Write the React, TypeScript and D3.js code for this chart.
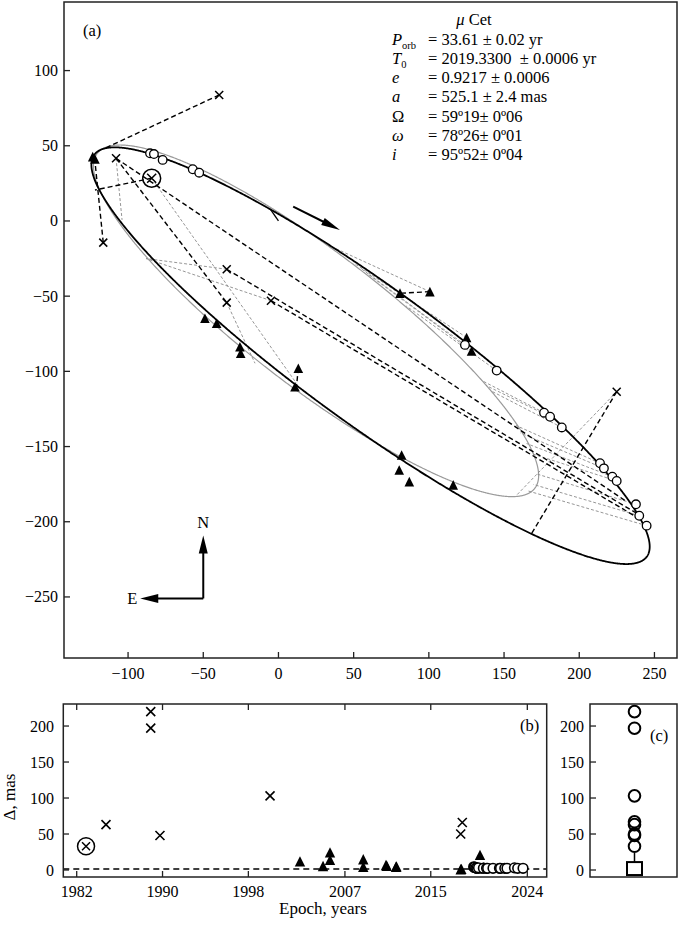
import React from 'react';
import * as d3 from 'd3';

// ---------- orbital elements (from the figure legend) ----------
const P_ORB = 33.61;
const T0 = 2019.33;
const ECC = 0.9217;
const A_MAS = 525.1;
const NODE_DEG = 59.19;
const PERI_DEG = 78.26;
const INC_DEG = 95.52;

// previous (grey) orbit, projected ellipse: centre x, centre y, half width, half height, phase (deg)
const GRAY_ORBIT = [25, -66.4, 148, 116.9, 151.66];

// ---------- panel (a) measurements (x = -ΔRA, y = ΔDec, mas) ----------
const circlesA: [number, number][] = [
  [-85.4, 45], [-82.8, 44.5], [-77, 40.6], [-57, 34.4], [-52.7, 32.1],
  [124, -82.4], [145.1, -99.5], [176.6, -127.5], [180.6, -130.2], [188.4, -137.3],
  [213.8, -161.1], [216.4, -164.5], [222, -170], [224.9, -172.9],
  [237.7, -188.4], [239.9, -196], [244.8, -202.6],
];
const trianglesA: [number, number][] = [
  [-123.5, 42.8], [-122, 41.2], [80.8, -48], [100.7, -47], [125.1, -77.5], [128.4, -86.5],
  [-48.9, -64.7], [-41.1, -68], [-25.6, -83.6], [-25.1, -88], [11, -110.2], [13.2, -97.9],
  [81.9, -155.6], [80.3, -165.6], [87, -173.3], [116.2, -175.5],
];
const crossesA: [number, number][] = [
  [-39.4, 83.8], [-108, 41.7], [-116.5, -14.4], [-34.4, -32.1], [-34.4, -54.3], [-5, -53], [224.9, -113.5],
];
const circledCrossA: [number, number] = [-84.3, 28.4];

// O-C links to the new orbit (black dashed)
const blackLinks: [number, number, number, number][] = [
  [-39.4, 83.8, -115.4, 48.3],
  [-116.5, -14.4, -122, 39.5],
  [-84.3, 28.4, -122, 20.6],
  [-108, 41.7, 231.5, -186.6],
  [-108, 41.7, -34.4, -54.3],
  [-34.4, -32.1, 238.2, -194.4],
  [-5, -53, 240, -198],
  [224.9, -113.5, 168.4, -207.7],
  [100.7, -47, 82, -48],
  [13.2, -97.9, 12, -110],
];
// O-C links to the previous orbit (grey dashed)
const grayLinks: [number, number, number, number][] = [
  [-108, 41.7, -104, 0.7],
  [-84.3, 28.4, 12, -108],
  [-34.4, -32.1, -88, -25],
  [-5, -53, -88, -25],
  [-34.4, -54.3, -15.6, -94.6],
  [100.7, -47, 36, -17.4],
  [124, -82.4, 55, -31.7],
  [125.1, -77.5, 50, -28],
  [128.4, -86.5, 60, -35.7],
  [145.1, -99.5, 85, -56.6],
  [176.6, -127.5, 135, -106],
  [180.6, -130.2, 138, -109.4],
  [188.4, -137.3, 141, -112.8],
  [213.8, -161.1, 158, -136],
  [216.4, -164.5, 161, -141],
  [222, -170, 165, -148],
  [224.9, -172.9, 168, -154.6],
  [237.7, -188.4, 171, -168],
  [239.9, -196, 169.5, -175.2],
  [244.8, -202.6, 165.9, -179.5],
  [224.9, -113.5, 158.2, -182.5],
];

// ---------- panel (b) residuals ----------
const crossEpochs = [1984.73, 1988.9, 1988.9, 1989.76, 2000.02, 2017.79, 2017.94];
const crossDelta = [63, 220, 197, 48, 103, 50, 66];
const circledEpoch = 1982.87;
const circledDelta = 33;
const triEpochs = [2002.81, 2004.96, 2005.61, 2005.61, 2008.71, 2008.71, 2010.83, 2010.9, 2011.76, 2011.8, 2017.79, 2017.85, 2019.59, 2019.55, 2019.9, 2019.95];
const triDelta = [12, 5.5, 24.5, 14, 15, 4.6, 7, 6, 4.6, 5, 1, 1.5, 21, 2, 3, 4];
const circEpochs = [2019.0, 2019.05, 2019.1, 2019.2, 2019.3, 2019.45, 2019.9, 2020.2, 2020.3, 2020.8, 2021.4, 2021.5, 2021.9, 2022.1, 2022.8, 2023.1, 2023.6];
const circDelta = [4.5, 3.5, 4, 3, 2.5, 3, 2.5, 2.4, 2.4, 2.4, 2.4, 2.4, 2.4, 2.4, 3, 2.4, 2.4];
const meanError = 1.5;

// ---------- panel (c) distribution ----------
const outliers = [220, 197, 103, 67, 63, 50, 48, 33];
const boxStats = { low: 0.5, q1: -7, q3: 11, high: 24 };

const epochTicks = [1982, 1990, 1998, 2007, 2015, 2024];
const deltaTicks = [0, 50, 100, 150, 200];
const xTicksA = [-100, -50, 0, 50, 100, 150, 200, 250];
const yTicksA = [-250, -200, -150, -100, -50, 0, 50, 100];

const FONT = "'Liberation Serif', 'Times New Roman', serif";
const rad = Math.PI / 180;

// scales
const xA = d3.scaleLinear().domain([-142.6, 265]).range([64, 677]);
const yA = d3.scaleLinear().domain([-290.6, 145.6]).range([658, 2]);
const xB = d3.scaleLinear().domain([1980.751, 2025.806]).range([63.3, 546.7]);
const yB = d3.scaleLinear().domain([-9.72, 230.6]).range([877, 704]);
const xC = 634.5;

// Thiele-Innes projection of the new orbit
const w = PERI_DEG * rad, O = NODE_DEG * rad, inc = INC_DEG * rad;
const TA = A_MAS * (Math.cos(w) * Math.cos(O) - Math.sin(w) * Math.sin(O) * Math.cos(inc));
const TB = A_MAS * (Math.cos(w) * Math.sin(O) + Math.sin(w) * Math.cos(O) * Math.cos(inc));
const TF = A_MAS * (-Math.sin(w) * Math.cos(O) - Math.cos(w) * Math.sin(O) * Math.cos(inc));
const TG = A_MAS * (-Math.sin(w) * Math.sin(O) + Math.cos(w) * Math.cos(O) * Math.cos(inc));
function orbitPos(E: number): [number, number] {
  const X = Math.cos(E) - ECC;
  const Y = Math.sqrt(1 - ECC * ECC) * Math.sin(E);
  const north = TA * X + TF * Y;
  const east = TB * X + TG * Y;
  return [-east, north];
}
const newOrbit = d3.range(0, 1441).map((k) => orbitPos((k / 1440) * 2 * Math.PI));
const [gcx, gcy, gax, gby, gpsi] = GRAY_ORBIT;
const oldOrbit = d3.range(0, 1441).map((k) => {
  const t = (k / 1440) * 2 * Math.PI;
  return [gcx + gax * Math.cos(t), gcy + gby * Math.cos(t - gpsi * rad)] as [number, number];
});
const lineA = d3.line<[number, number]>().x((d) => xA(d[0])).y((d) => yA(d[1]));
const periPos = orbitPos(0);

function triPath(cx: number, cy: number, s: number) {
  return `M${cx},${cy - s}L${cx + s},${cy + s}L${cx - s},${cy + s}Z`;
}
function crossPath(cx: number, cy: number, s: number) {
  return `M${cx - s},${cy - s}L${cx + s},${cy + s}M${cx - s},${cy + s}L${cx + s},${cy - s}`;
}
function arrowHead(x1: number, y1: number, x2: number, y2: number, len: number, wid: number) {
  const dx = x2 - x1, dy = y2 - y1;
  const n = Math.hypot(dx, dy);
  const ux = dx / n, uy = dy / n;
  const bx = x2 - ux * len, by = y2 - uy * len;
  return `M${x2},${y2}L${bx - uy * wid / 2},${by + ux * wid / 2}L${bx + uy * wid / 2},${by - ux * wid / 2}Z`;
}

const TXT = 16.5;
const TICK = 16;

export default function App() {
  const arrow1 = [xA(9.8), yA(9.5), xA(40.9), yA(-6)];
  const cN = [xA(-50), yA(-251)];
  const armLen = 63;
  const paramRows: { y: number; label: React.ReactNode; value: string }[] = [
    { y: 45, label: <><tspan fontStyle="italic">P</tspan><tspan fontSize={10.5} dy={4}>orb</tspan></>, value: '= 33.61 ± 0.02 yr' },
    { y: 64, label: <><tspan fontStyle="italic">T</tspan><tspan fontSize={10.5} dy={4}>0</tspan></>, value: '= 2019.3300  ± 0.0006 yr' },
    { y: 83, label: <tspan fontStyle="italic">e</tspan>, value: '= 0.9217 ± 0.0006' },
    { y: 102, label: <tspan fontStyle="italic">a</tspan>, value: '= 525.1 ± 2.4 mas' },
    { y: 122, label: <tspan>Ω</tspan>, value: '= 59º19± 0º06' },
    { y: 141, label: <tspan fontStyle="italic">ω</tspan>, value: '= 78º26± 0º01' },
    { y: 160, label: <tspan fontStyle="italic">i</tspan>, value: '= 95º52± 0º04' },
  ];
  const frameStroke = '#222';

  return (
    <svg width={681} height={926} style={{ display: 'block', position: 'absolute', left: 0, top: 0, background: '#fff' }} fontFamily={FONT}>
      <rect x={0} y={0} width={681} height={926} fill="#fff" />
      {/* ================= panel (a) ================= */}
      <defs>
        <clipPath id="clipA"><rect x={64} y={2} width={613} height={656} /></clipPath>
      </defs>
      <g clipPath="url(#clipA)">
        <path d={lineA(oldOrbit) || ''} fill="none" stroke="#9a9a9a" strokeWidth={1.2} />
        {grayLinks.map((l, k) => (
          <line key={'g' + k} x1={xA(l[0])} y1={yA(l[1])} x2={xA(l[2])} y2={yA(l[3])} stroke="#8a8a8a" strokeWidth={0.9} strokeDasharray="3 2" />
        ))}
        <path d={lineA(newOrbit) || ''} fill="none" stroke="#000" strokeWidth={1.8} />
        <line x1={xA(0)} y1={yA(0)} x2={xA(periPos[0])} y2={yA(periPos[1])} stroke="#000" strokeWidth={1.3} />
        {blackLinks.map((l, k) => (
          <line key={'b' + k} x1={xA(l[0])} y1={yA(l[1])} x2={xA(l[2])} y2={yA(l[3])} stroke="#000" strokeWidth={1.4} strokeDasharray="5 3" />
        ))}
        {trianglesA.map((p, k) => (
          <path key={'t' + k} d={triPath(xA(p[0]), yA(p[1]), 4.8)} fill="#000" />
        ))}
        {circlesA.map((p, k) => (
          <circle key={'c' + k} cx={xA(p[0])} cy={yA(p[1])} r={4.3} fill="#fff" stroke="#000" strokeWidth={1.3} />
        ))}
        {crossesA.map((p, k) => (
          <path key={'x' + k} d={crossPath(xA(p[0]), yA(p[1]), 4)} stroke="#000" strokeWidth={1.5} fill="none" />
        ))}
        <circle cx={xA(circledCrossA[0])} cy={yA(circledCrossA[1])} r={9} fill="none" stroke="#000" strokeWidth={1.5} />
        <path d={crossPath(xA(circledCrossA[0]), yA(circledCrossA[1]), 4.5)} stroke="#000" strokeWidth={1.5} fill="none" />
        {/* motion arrow */}
        <line x1={arrow1[0]} y1={arrow1[1]} x2={arrow1[2] - 8} y2={arrow1[3] - 4} stroke="#000" strokeWidth={2} />
        <path d={arrowHead(arrow1[0], arrow1[1], arrow1[2], arrow1[3], 19, 8)} fill="#000" />
        {/* compass */}
        <line x1={cN[0]} y1={cN[1]} x2={cN[0]} y2={cN[1] - armLen + 10} stroke="#000" strokeWidth={2} />
        <path d={arrowHead(cN[0], cN[1], cN[0], cN[1] - armLen, 18, 9)} fill="#000" />
        <line x1={cN[0]} y1={cN[1]} x2={cN[0] - armLen + 10} y2={cN[1]} stroke="#000" strokeWidth={2} />
        <path d={arrowHead(cN[0], cN[1], cN[0] - armLen, cN[1], 18, 9)} fill="#000" />
      </g>
      <text x={cN[0]} y={cN[1] - armLen - 7} fontSize={TXT} textAnchor="middle">N</text>
      <text x={cN[0] - armLen - 3} y={cN[1] + 6} fontSize={TXT} textAnchor="end">E</text>
      <rect x={64} y={2} width={613} height={656} fill="none" stroke={frameStroke} strokeWidth={1.5} />
      {xTicksA.map((t) => (
        <g key={'xa' + t}>
          <line x1={xA(t)} x2={xA(t)} y1={658} y2={652} stroke={frameStroke} strokeWidth={1.3} />
          <text x={xA(t)} y={679} fontSize={TICK} textAnchor="middle">{t < 0 ? '−' + Math.abs(t) : t}</text>
        </g>
      ))}
      {yTicksA.map((t) => (
        <g key={'ya' + t}>
          <line x1={64} x2={70} y1={yA(t)} y2={yA(t)} stroke={frameStroke} strokeWidth={1.3} />
          <text x={58} y={yA(t) + 5.5} fontSize={TICK} textAnchor="end">{t < 0 ? '−' + Math.abs(t) : t}</text>
        </g>
      ))}
      <text x={83} y={36} fontSize={TXT}>(a)</text>
      <text x={474} y={25} fontSize={TXT} textAnchor="middle"><tspan fontStyle="italic">μ</tspan> Cet</text>
      {paramRows.map((r, k) => (
        <g key={'p' + k}>
          <text x={392} y={r.y} fontSize={TXT}>{r.label}</text>
          <text x={428} y={r.y} fontSize={TXT} style={{ whiteSpace: 'pre' }}>{r.value}</text>
        </g>
      ))}

      {/* ================= panel (b) ================= */}
      <line x1={63.3} x2={546.7} y1={yB(meanError)} y2={yB(meanError)} stroke="#000" strokeWidth={1.5} strokeDasharray="6 4" />
      {crossEpochs.map((t, k) => (
        <path key={'bx' + k} d={crossPath(xB(t), yB(crossDelta[k]), 4.5)} stroke="#000" strokeWidth={1.6} fill="none" />
      ))}
      <circle cx={xB(circledEpoch)} cy={yB(circledDelta)} r={8.5} fill="none" stroke="#000" strokeWidth={1.5} />
      <path d={crossPath(xB(circledEpoch), yB(circledDelta), 4)} stroke="#000" strokeWidth={1.5} fill="none" />
      {triEpochs.map((t, k) => (
        <path key={'bt' + k} d={triPath(xB(t), yB(triDelta[k]), 5.2)} fill="#000" />
      ))}
      {circEpochs.map((t, k) => (
        <circle key={'bc' + k} cx={xB(t)} cy={yB(circDelta[k])} r={4.8} fill="#fff" stroke="#000" strokeWidth={1.6} />
      ))}
      <rect x={63.3} y={704} width={483.4} height={173} fill="none" stroke={frameStroke} strokeWidth={1.5} />
      {epochTicks.map((t) => (
        <g key={'xb' + t}>
          <line x1={xB(t)} x2={xB(t)} y1={877} y2={871} stroke={frameStroke} strokeWidth={1.3} />
          <line x1={xB(t)} x2={xB(t)} y1={704} y2={710} stroke={frameStroke} strokeWidth={1.3} />
          <text x={xB(t)} y={896.5} fontSize={TICK} textAnchor="middle">{t}</text>
        </g>
      ))}
      {deltaTicks.map((t) => (
        <g key={'yb' + t}>
          <line x1={63.3} x2={69} y1={yB(t)} y2={yB(t)} stroke={frameStroke} strokeWidth={1.3} />
          <text x={54} y={yB(t) + 5.5} fontSize={TICK} textAnchor="end">{t}</text>
        </g>
      ))}
      <text x={520} y={731} fontSize={TXT}>(b)</text>
      <text x={323} y={914} fontSize={17} textAnchor="middle">Epoch, years</text>
      <text transform="translate(15,797) rotate(-90)" fontSize={17} textAnchor="middle">Δ, mas</text>

      {/* ================= panel (c) ================= */}
      <line x1={xC} x2={xC} y1={yB(boxStats.high)} y2={yB(boxStats.q3)} stroke="#000" strokeWidth={1.5} />
      <line x1={xC} x2={xC} y1={yB(boxStats.q1)} y2={yB(boxStats.low)} stroke="#000" strokeWidth={1.5} />
      <rect x={xC - 7.5} y={yB(boxStats.q3)} width={15} height={yB(boxStats.q1) - yB(boxStats.q3)} fill="#fff" stroke="#000" strokeWidth={2} />
      {outliers.map((v, k) => (
        <circle key={'o' + k} cx={xC} cy={yB(v)} r={5.8} fill="none" stroke="#000" strokeWidth={2} />
      ))}
      <rect x={590} y={704} width={87} height={173} fill="none" stroke={frameStroke} strokeWidth={1.5} />
      {deltaTicks.map((t) => (
        <g key={'yc' + t}>
          <line x1={590} x2={596} y1={yB(t)} y2={yB(t)} stroke={frameStroke} strokeWidth={1.3} />
          <text x={584} y={yB(t) + 5.5} fontSize={TICK} textAnchor="end">{t}</text>
        </g>
      ))}
      <text x={650} y={741} fontSize={TXT}>(c)</text>
    </svg>
  );
}
